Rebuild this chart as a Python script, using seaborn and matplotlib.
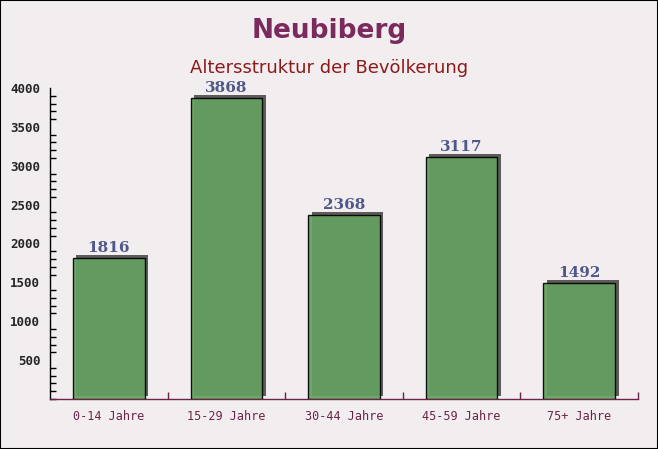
import numpy as np
import pandas as pd
import matplotlib
matplotlib.use("Agg")
import matplotlib.pyplot as plt
import matplotlib.transforms as mtransforms
from matplotlib.patches import Rectangle
import seaborn as sns

categories = ["0-14 Jahre", "15-29 Jahre", "30-44 Jahre", "45-59 Jahre", "75+ Jahre"]
values = [1816, 3868, 2368, 3117, 1492]
y_ticks = [500, 1000, 1500, 2000, 2500, 3000, 3500, 4000]

title = "Neubiberg"
subtitle = "Altersstruktur der Bevölkerung"

bg = "#f2eef0"
bar_color = "#64a060"
shadow_color = "#5f5b5d"
label_color = "#4f5889"

sns.set_theme(style="white")
plt.rcParams["font.family"] = ["DejaVu Sans"]

fig = plt.figure(figsize=(6.58, 4.49), dpi=100)
fig.patch.set_facecolor(bg)
ax = fig.add_axes([50 / 658, 1 - 399 / 449, 588 / 658, 311 / 449])
ax.set_facecolor("none")

df = pd.DataFrame({"Altersgruppe": categories, "Einwohner": values})
sns.barplot(data=df, x="Altersgruppe", y="Einwohner", color=bar_color,
            width=0.61, saturation=1, edgecolor="black", linewidth=1.0,
            alpha=0.92, ax=ax, zorder=3)

# drop shadow behind each bar + value label on top
shadow_tr = mtransforms.offset_copy(ax.transData, fig=fig, x=3.5, y=3, units="dots")
label_tr = mtransforms.offset_copy(ax.transData, fig=fig, x=0, y=3, units="dots")
for p in list(ax.patches):
    sh = Rectangle((p.get_x(), 0), p.get_width(), p.get_height(),
                   transform=shadow_tr, facecolor=shadow_color,
                   edgecolor="none", zorder=2, clip_on=False)
    ax.add_patch(sh)
    ax.text(p.get_x() + p.get_width() / 2, p.get_height(), f"{int(p.get_height())}",
            ha="center", va="bottom", fontsize=11, fontweight="bold",
            family="DejaVu Serif", color=label_color, transform=label_tr)

ax.set_ylim(0, 4000)
ax.set_xlim(-0.5, len(categories) - 0.5)
ax.set_yticks(y_ticks)
ax.set_yticks(np.arange(0, 4001, 100), minor=True)
ax.set_xticks(np.arange(len(categories)) + 0.5, minor=True)
ax.set_xlabel("")
ax.set_ylabel("")

for s in ["top", "right"]:
    ax.spines[s].set_visible(False)
ax.spines["left"].set_color("black")
ax.spines["left"].set_linewidth(1.0)
ax.spines["bottom"].set_color("#6b2448")
ax.spines["bottom"].set_linewidth(1.0)

ax.tick_params(axis="y", which="major", direction="in", length=5, color="black",
               labelsize=9, pad=7)
ax.tick_params(axis="y", which="minor", direction="in", length=4, color="black", left=True)
ax.tick_params(axis="x", which="major", length=0, labelsize=8.5, pad=8,
               labelcolor="#6b2448")
ax.tick_params(axis="x", which="minor", direction="in", length=5, color="#6b2448",
               bottom=True)
for lbl in ax.get_yticklabels():
    lbl.set_family("DejaVu Sans Mono")
    lbl.set_fontweight("bold")
for lbl in ax.get_xticklabels():
    lbl.set_family("DejaVu Sans Mono")

fig.text(0.5, 1 - 31 / 449, title, ha="center", va="center", fontsize=19,
         fontweight="bold", color="#7a2a5c")
fig.text(0.5, 1 - 68 / 449, subtitle, ha="center", va="center", fontsize=13,
         color="#8b1a1a")

fig.patches.append(Rectangle((0, 0), 1, 1, transform=fig.transFigure, fill=False,
                             edgecolor="black", linewidth=1.5, zorder=10))

fig.savefig("out.png", dpi=100, facecolor=bg)
